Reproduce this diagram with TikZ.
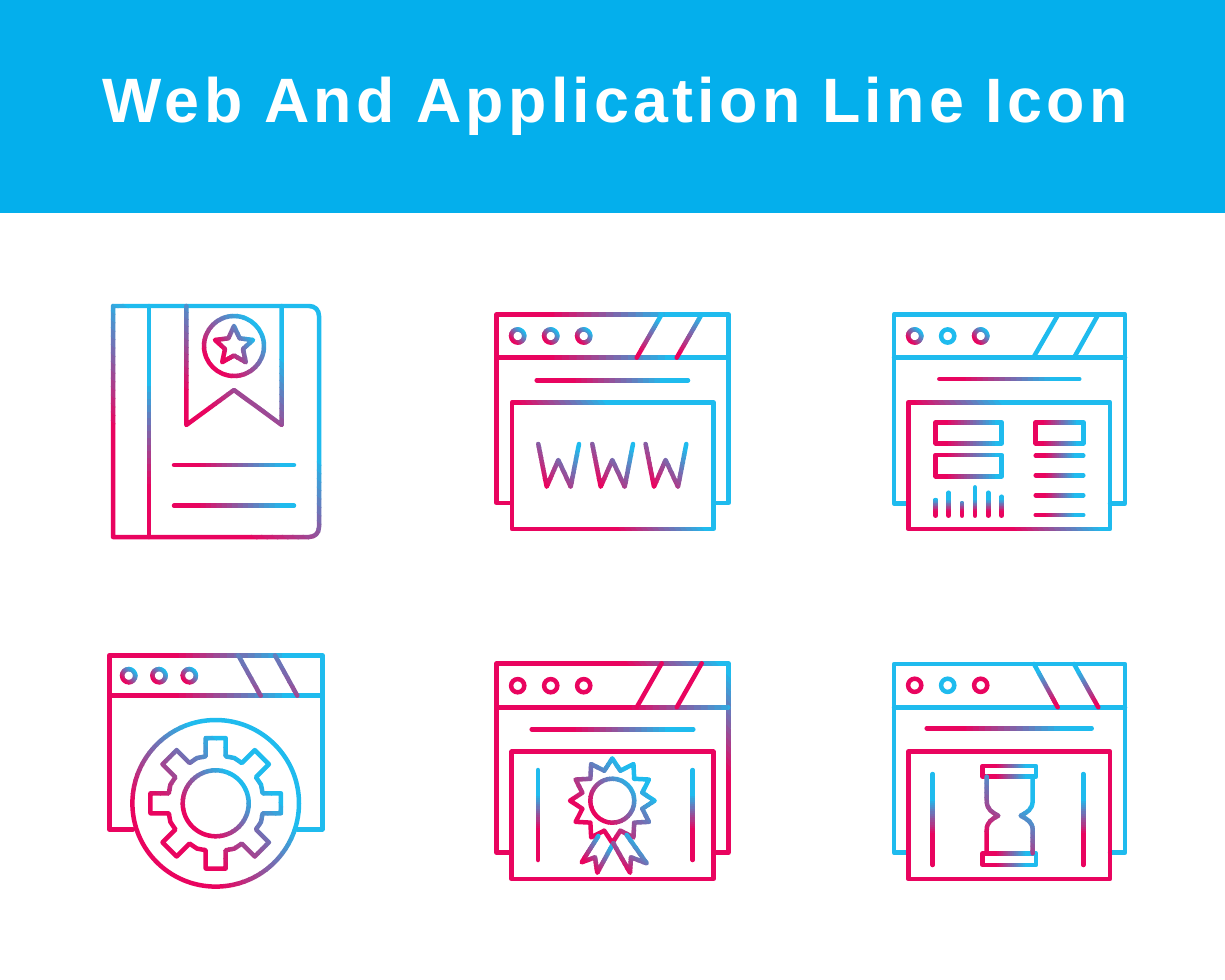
\documentclass[tikz,border=0pt]{standalone}
\usepackage{fontspec}
\newfontfamily\titlefont[LetterSpace=6.8]{Liberation Sans}
\definecolor{gpink}{HTML}{E9045F}
\definecolor{gcyan}{HTML}{1FBBEE}
\definecolor{banner}{HTML}{04AFEC}
\tikzset{
	icon/.style={line width=0.09cm,line join=round,line cap=round},
	title/.style={text=white,anchor=base,font=\titlefont\fontsize{35.7}{40}\selectfont\bfseries},
}
% stroke a path with a colour ramp from (#1,#2) to (#3,#4)
\newcommand{\gradline}[5]{%
	\pgfmathsetmacro{\gdx}{(#3)-(#1)}
	\pgfmathsetmacro{\gdy}{(#4)-(#2)}
	\pgfmathsetmacro{\glen}{veclen(\gdx,\gdy)}
	\pgfmathsetmacro{\gux}{\gdx/\glen}
	\pgfmathsetmacro{\guy}{\gdy/\glen}
	\foreach \k in {0,...,16}{
		\pgfmathsetmacro{\gfrom}{\k==0 ? -1500 : \k/16*\glen}
		\pgfmathsetmacro{\gto}{\k==16 ? 1500 : (\k+1)/16*\glen+0.6}
		\pgfmathtruncatemacro{\gmix}{100*\k/16}
		\begin{scope}
			\clip ({#1+\gfrom*\gux-1500*\guy},{#2+\gfrom*\guy+1500*\gux}) -- ({#1+\gfrom*\gux+1500*\guy},{#2+\gfrom*\guy-1500*\gux}) -- ({#1+\gto*\gux+1500*\guy},{#2+\gto*\guy-1500*\gux}) -- ({#1+\gto*\gux-1500*\guy},{#2+\gto*\guy+1500*\gux}) -- cycle;
			\draw[icon,draw=gcyan!\gmix!gpink] #5;
		\end{scope}
	}
}
\newcommand{\gdot}[2]{\gradline{#1-5}{#2+5}{#1+5}{#2-5}{(#1,#2) circle [radius=6.6]}}
\begin{document}
\begin{tikzpicture}[x=0.02cm,y=-0.02cm]
	\useasboundingbox (0,0) rectangle (1225,980);
	\fill[banner] (0,0) rectangle (1225,213);
	\node[title] (heading) at (615,123) {Web And Application Line Icon};

	% book
	\gradline{112}{430}{178}{349}{(113,306) -- (309,306) .. controls (315,306) and (319,310) .. (319,316) -- (319,527) .. controls (319,533) and (315,537) .. (309,537) -- (113,537) -- cycle}
	\gradline{149}{490}{149}{385}{(149,306) -- (149,537)}
	\gradline{186}{395}{241}{328}{(186.3,306) -- (186.3,425) -- (234,390) -- (281.7,425) -- (281.7,306)}
	\gradline{214}{366}{254}{326}{(234,346) circle [radius=30]}
	\gradline{222}{352}{250}{335}{(234,326) -- (239.6,338.3) -- (253,340) -- (243,349) -- (245.8,362.2) -- (234,355.5) -- (222.2,362.2) -- (225,349) -- (215,340) -- (228.4,338.3) -- cycle}
	\gradline{195}{465}{280}{465}{(174,465) -- (294,465)}
	\gradline{195}{505.7}{280}{505.7}{(174,505.7) -- (294,505.7)}

	% www window
	\gradline{547}{0}{665}{0}{(510,503) -- (496.7,503) -- (496.7,314.3) -- (728.3,314.3) -- (728.3,503) -- (714,503)}
	\gradline{547}{0}{665}{0}{(496.7,357.7) -- (728.3,357.7)}
	\gradline{640}{352}{660}{322}{(636.7,357.7) -- (661.7,314.3)}
	\gradline{680}{354}{700}{318}{(676.7,357.7) -- (701.7,314.3)}
	\gdot{517.7}{336}
	\gdot{550.7}{336}
	\gdot{583.7}{336}
	\gradline{570}{0}{660}{0}{(536.7,380.3) -- (688,380.3)}
	\gradline{515}{402}{570}{359}{(512,402.3) rectangle (713.3,529)}
	\gradline{546.7}{487}{580.6}{453}{(538.3,444) -- (546.7,486.7) -- (558.3,460) -- (570.7,486.7) -- (579,444)}
	\gradline{600.7}{487}{634.6}{453}{(592.3,444) -- (600.7,486.7) -- (612.3,460) -- (624.7,486.7) -- (633,444)}
	\gradline{654}{487}{687.9}{453}{(645.6,444) -- (654,486.7) -- (665.6,460) -- (678,486.7) -- (686.3,444)}

	% dashboard window
	\draw[icon,gcyan] (908,503.3) -- (894,503.3) -- (894,314.3) -- (1125,314.3) -- (1125,503.3) -- (1110,503.3);
	\draw[icon,gcyan] (894,357.7) -- (1125,357.7);
	\draw[icon,gcyan] (1033.3,357.7) -- (1058.3,314.3);
	\draw[icon,gcyan] (1074,357.7) -- (1098.3,314.3);
	\gdot{914.7}{336}
	\draw[icon,gcyan] (947.7,336) circle [radius=6.6];
	\gdot{980.7}{336}
	\gradline{960}{0}{1050}{0}{(939.3,379) -- (1079.3,379)}
	\gradline{911}{402}{966}{359}{(908.3,402.3) rectangle (1110,529)}
	\gradline{945}{0}{995}{0}{(935.7,422.3) rectangle (1001.7,443.3)}
	\gradline{945}{0}{995}{0}{(935.7,455) rectangle (1001.7,476.3)}
	\gradline{1042}{0}{1076}{0}{(1035.7,422.3) rectangle (1083.3,443.3)}
	\foreach \ly in {455.7,475.3,495.3,515}{
		\gradline{1044}{0}{1074}{0}{(1035.7,\ly) -- (1083.3,\ly)}
	}
	\foreach \bx/\by in {935.7/500,948.7/492.7,962/503.3,975/487.3,988.3/492.7,1001.7/496.7}{
		\gradline{0}{511}{0}{499}{(\bx,515.7) -- (\bx,\by)}
	}

	% gear window
	\gradline{172}{0}{282}{0}{(133,829.3) -- (109.3,829.3) -- (109.3,655.3) -- (322.3,655.3) -- (322.3,829.3) -- (297,829.3)}
	\gradline{172}{0}{282}{0}{(109.3,695.7) -- (322.3,695.7)}
	\gradline{225}{720}{265}{640}{(238.3,655.3) -- (260.7,695.7)}
	\gradline{262}{720}{302}{640}{(275,655.3) -- (297.3,695.7)}
	\gdot{128.7}{675.7}
	\gdot{159}{675.7}
	\gdot{189.3}{675.7}
	\gradline{131.7}{803}{198}{736.5}{(215.7,803.3) circle [radius=83.3]}
	\gradline{195}{824}{236}{783}{(215.7,803.3) circle [radius=33]}
	\gradline{151.7}{803}{215.3}{739.4}{({215.7+48*cos(-12)},{803.3+48*sin(-12)}) \foreach \a in {0,45,...,315}{ -- ({215.7+66*cos(\a-8.7)},{803.3+66*sin(\a-8.7)}) -- ({215.7+66*cos(\a+8.7)},{803.3+66*sin(\a+8.7)}) -- ({215.7+48*cos(\a+12)},{803.3+48*sin(\a+12)}) -- ({215.7+49*cos(\a+22.5)},{803.3+49*sin(\a+22.5)}) -- ({215.7+48*cos(\a+33)},{803.3+48*sin(\a+33)})} -- cycle}

	% badge window
	\gradline{623}{664}{673.6}{617}{(510,852.7) -- (496.7,852.7) -- (496.7,663.3) -- (728.3,663.3) -- (728.3,852.7) -- (714,852.7)}
	\gradline{625}{0}{735}{0}{(496.7,707.3) -- (728.3,707.3)}
	\draw[icon,gpink] (636.7,707.3) -- (661.7,663.3);
	\draw[icon,gpink] (676.7,707.3) -- (701.7,663.3);
	\draw[icon,gpink] (517.7,685.7) circle [radius=6.6];
	\draw[icon,gpink] (550.7,685.7) circle [radius=6.6];
	\draw[icon,gpink] (583.7,685.7) circle [radius=6.6];
	\gradline{570}{0}{665}{0}{(531.7,729.3) -- (693.3,729.3)}
	\draw[icon,gpink] (511.7,751.7) rectangle (713.3,879);
	\gradline{0}{830}{0}{795}{(538,770) -- (538,860)}
	\gradline{0}{830}{0}{795}{(692.7,770) -- (692.7,860)}
	\gradline{570}{801.3}{612.3}{759}{({612.3+42.3*cos(0)},{800.7+42.3*sin(0)}) \foreach \a in {0,30,...,330}{ -- ({612.3+31*cos(\a+15)},{800.7+31*sin(\a+15)}) -- ({612.3+42.3*cos(\a+30)},{800.7+42.3*sin(\a+30)})} -- cycle}
	\gradline{595}{813.3}{630}{783.3}{(612.3,800.7) circle [radius=22]}
	\gradline{590}{867}{610}{847}{(598.3,836) -- (581.7,862.3) -- (595,857.3) -- (597.3,872.7) -- (613.3,843.3)}
	\gradline{623}{870}{643}{847}{(626.7,835) -- (646.7,863.3) -- (631,857.3) -- (630,872.7) -- (613.3,843.3)}

	% hourglass window
	\draw[icon,gcyan] (908,852.7) -- (894,852.7) -- (894,664) -- (1125,664) -- (1125,852.7) -- (1110,852.7);
	\draw[icon,gcyan] (894,707.3) -- (1125,707.3);
	\gradline{1055}{704}{1040}{672}{(1034,664) -- (1057.7,707.3)}
	\gradline{1096}{704}{1080}{672}{(1074,664) -- (1098.3,707.3)}
	\draw[icon,gpink] (914.7,685.3) circle [radius=6.6];
	\draw[icon,gcyan] (947.7,685.3) circle [radius=6.6];
	\draw[icon,gpink] (980.7,685.3) circle [radius=6.6];
	\gradline{960}{0}{1060}{0}{(926.7,728.3) -- (1091.7,728.3)}
	\draw[icon,gpink] (908.3,751.7) rectangle (1110,879);
	\gradline{0}{835}{0}{800}{(932.7,774) -- (932.7,865)}
	\gradline{0}{835}{0}{800}{(1083.3,774) -- (1083.3,865)}
	\gradline{995}{0}{1025}{0}{(982.7,766) rectangle (1036,776.7)}
	\gradline{995}{0}{1025}{0}{(982.7,853.3) rectangle (1036,865)}
	\gradline{990}{840}{1025}{785}{(986.7,776.7) -- (986.7,800) .. controls (986.7,810) and (992,812) .. (998.3,815.7) .. controls (992,819) and (986.7,822) .. (986.7,830) -- (986.7,853.3)}
	\gradline{1005}{862}{1035}{810}{(1032.7,776.7) -- (1032.7,800) .. controls (1032.7,810) and (1027,812) .. (1020.7,815.7) .. controls (1027,819) and (1032.7,822) .. (1032.7,830) -- (1032.7,853.3)}
\end{tikzpicture}
\end{document}
